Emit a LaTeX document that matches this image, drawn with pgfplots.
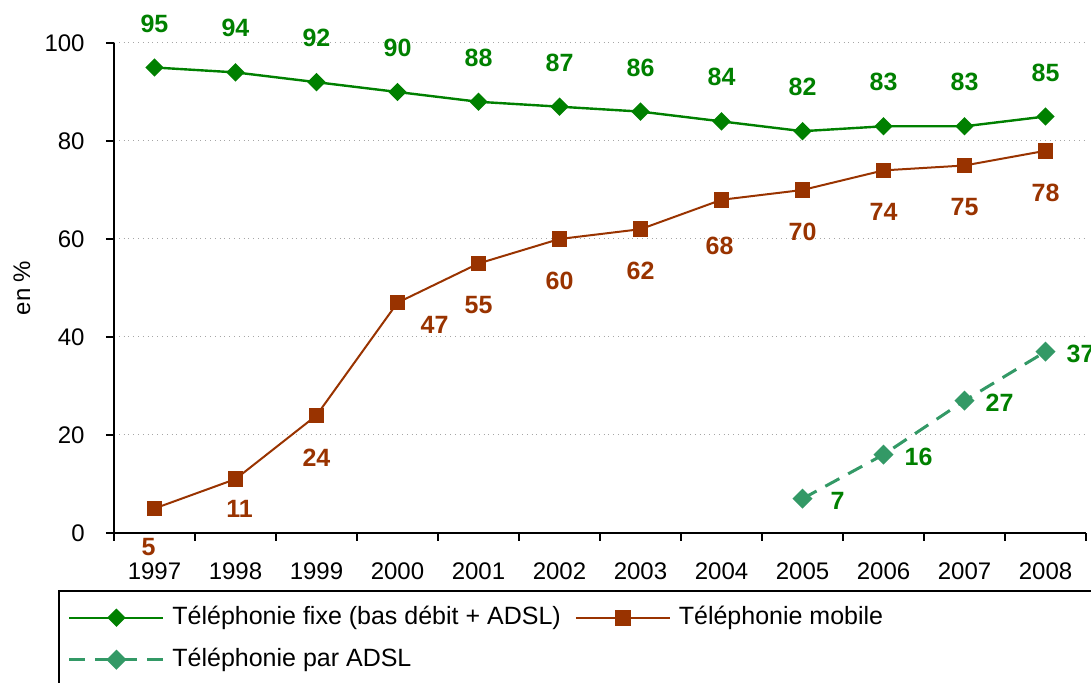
\documentclass[border=0pt]{standalone}
\usepackage{fontspec}
\setmainfont{Liberation Sans}
\usepackage{pgfplots}
\pgfplotsset{compat=1.18}
\pgfplotsset{/pgf/number format/assume math mode=true}
\definecolor{cfixe}{HTML}{008000}
\definecolor{cmob}{HTML}{993300}
\definecolor{cadsl}{HTML}{339966}

\pgfplotsset{
  lbl/.style n args={3}{forget plot, draw=none, mark=none,
    nodes near coords,
    every node near coord/.append style={anchor=center, inner sep=0pt, xshift=#2, yshift=#3, font=\fontsize{12.5}{14}\selectfont\bfseries, text=#1}},
}

\begin{document}
\begin{tikzpicture}
\path[use as bounding box] (-57pt,-75pt) rectangle (488.5pt,266.5pt);
\begin{axis}[
  scale only axis,
  width=486pt, height=245pt,
  at={(0,0)}, anchor=south west,
  xmin=-0.5, xmax=11.5, ymin=0, ymax=100,
  axis x line*=bottom, axis y line*=left,
  axis line style={line width=1pt, black},
  xtick={0,...,11},
  xticklabels={1997,1998,1999,2000,2001,2002,2003,2004,2005,2006,2007,2008},
  minor xtick={-0.5,0.5,1.5,2.5,3.5,4.5,5.5,6.5,7.5,8.5,9.5,10.5,11.5},
  ytick={0,20,40,60,80,100},
  tick align=outside,
  major tick length=4pt, minor tick length=4pt,
  x tick style={draw=none},
  minor x tick style={draw=black, line width=1pt},
  y tick style={draw=black, line width=1pt},
  ymajorgrids,
  major grid style={gray!70, dotted, line width=0.5pt},
  tick label style={font=\fontsize{12}{14}\selectfont},
  xticklabel style={anchor=north, inner sep=0pt, yshift=-10.5pt},
  yticklabel style={anchor=east, inner sep=0pt, xshift=-10.5pt},
  ylabel={en \%},
  ylabel style={at={(axis description cs:-0.0947,0.5)}, anchor=center, font=\fontsize{12}{14}\selectfont},
  clip=false,
  legend columns=2,
  legend style={at={(axis description cs:-0.0617,-0.1486)}, anchor=north west, draw=none, fill=none, inner sep=0pt, column sep=0pt, row sep=9.5pt, font=\fontsize{12.5}{15}\selectfont, nodes={inner sep=0pt, text height=9pt, text depth=2.5pt}},
  legend cell align=left,
  legend image code/.code={
    \path[draw=none] (-7.5pt,0pt) -- (51.5pt,0pt);
    \draw[mark repeat=2,mark phase=2,#1] plot coordinates {(0pt,0pt) (23.5pt,0pt) (47pt,0pt)};
  },
]
\addplot[color=cfixe, line width=1.2pt, mark=square*, mark size=2.65pt, mark options={rotate=45, solid, fill=cfixe}] coordinates {
  (0,95) (1,94) (2,92) (3,90) (4,88) (5,87) (6,86) (7,84) (8,82) (9,83) (10,83) (11,85)};
\addlegendentry{Téléphonie fixe (bas débit + ADSL)}
\addplot[color=cmob, line width=1pt, mark=square*, mark size=3.4pt, mark options={solid, fill=cmob}] coordinates {
  (0,5) (1,11) (2,24) (3,47) (4,55) (5,60) (6,62) (7,68) (8,70) (9,74) (10,75) (11,78)};
\addlegendentry{Téléphonie mobile}
\addplot[color=cadsl, line width=1.5pt, dash pattern=on 8pt off 5pt, mark=square*, mark size=2.8pt, mark options={rotate=45, solid, fill=cadsl}] coordinates {
  (8,7) (9,16) (10,27) (11,37)};
\addlegendentry{Téléphonie par ADSL}
% data labels
\addplot[lbl={cfixe}{0pt}{22pt}] coordinates {
  (0,95) (1,94) (2,92) (3,90) (4,88) (5,87) (6,86) (7,84) (8,82) (9,83) (10,83) (11,85)};
\addplot[lbl={cmob}{0pt}{-21pt}] coordinates {
  (2,24) (4,55) (5,60) (6,62) (8,70) (9,74) (10,75) (11,78)};
\addplot[lbl={cmob}{-3pt}{-19.5pt}] coordinates {(0,5)};
\addplot[lbl={cmob}{2pt}{-15pt}] coordinates {(1,11)};
\addplot[lbl={cmob}{18.5pt}{-11pt}] coordinates {(3,47)};
\addplot[lbl={cmob}{-1pt}{-23pt}] coordinates {(7,68)};
\addplot[lbl={cfixe}{17.5pt}{-1pt}] coordinates {(8,7) (9,16) (10,27) (11,37)};
\end{axis}
\draw[line width=1pt] (-27.5pt,-29pt) rectangle (520pt,-100pt);
\end{tikzpicture}
\end{document}
